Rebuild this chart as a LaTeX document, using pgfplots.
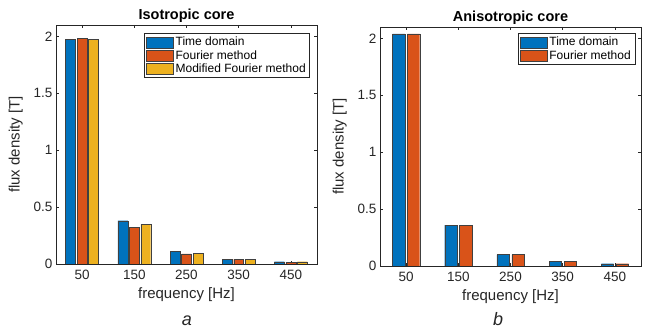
\documentclass[border=0pt]{standalone}
\usepackage{pgfplots}
\pgfplotsset{compat=1.18}
\usepackage{fontspec}
\setmainfont{Liberation Sans}
\definecolor{mblue}{rgb}{0,0.447,0.741}
\definecolor{mred}{rgb}{0.850,0.325,0.098}
\definecolor{myel}{rgb}{0.929,0.694,0.125}
\definecolor{mgray}{rgb}{0.15,0.15,0.15}
\pgfplotsset{
  mstyle/.style={
    scale only axis, width=261pt, height=239pt,
    ybar, ymin=0, ymax=2.1,
    xmin=-0.5, xmax=4.5,
    xtick={0,1,2,3,4}, xticklabels={50,150,250,350,450},
    ytick={0,0.5,1,1.5,2}, yticklabels={0,0.5,1,1.5,2},
    tick align=inside, major tick length=3pt,
    tick style={mgray, line width=0.5pt},
    axis line style={mgray, line width=0.5pt},
    ticklabel style={font=\fontsize{13.5}{15}\selectfont, text=mgray},
    xticklabel style={yshift=-3pt},
    label style={font=\fontsize{15}{17}\selectfont, text=mgray},
    title style={font=\fontsize{14.5}{16}\bfseries, yshift=-7pt},
    xlabel={frequency [Hz]}, ylabel={flux density [T]},
    xlabel style={yshift=-1pt}, ylabel style={yshift=4pt},
    /pgf/number format/assume math mode=true,
    legend cell align=left,
    legend style={font=\fontsize{12}{14}\selectfont, draw=mgray, line width=0.5pt,
      anchor=north east, inner xsep=2pt, inner ysep=2pt, row sep=-1pt},
    legend image code/.code={\draw[#1] (0pt,-5.5pt) rectangle (27pt,5.5pt);},
    every axis plot/.append style={draw=black!75, line width=0.4pt},
  }
}
\begin{document}
\begin{tikzpicture}
\useasboundingbox (0,0) rectangle (650pt,331pt);
\begin{axis}[mstyle, at={(56pt,67pt)}, anchor=south west, name=left,
  title={Isotropic core}, bar width=0.19,
  legend style={at={(0.973,0.967)}}]
\addplot[fill=mblue, bar shift=-0.22] coordinates {(0,1.975) (1,0.38) (2,0.11) (3,0.04) (4,0.02)};
\addplot[fill=mred, bar shift=0] coordinates {(0,1.98) (1,0.32) (2,0.09) (3,0.04) (4,0.015)};
\addplot[fill=myel, bar shift=0.22] coordinates {(0,1.975) (1,0.35) (2,0.095) (3,0.04) (4,0.02)};
\legend{Time domain, Fourier method, Modified Fourier method}
\end{axis}
\begin{axis}[mstyle, at={(380pt,65pt)}, anchor=south west, name=right,
  title={Anisotropic core}, bar width=0.235,
  legend style={at={(0.977,0.975)}}]
\addplot[fill=mblue, bar shift=-0.143] coordinates {(0,2.04) (1,0.36) (2,0.10) (3,0.04) (4,0.02)};
\addplot[fill=mred, bar shift=0.143] coordinates {(0,2.04) (1,0.36) (2,0.10) (3,0.04) (4,0.02)};
\legend{Time domain, Fourier method}
\end{axis}
\node[font=\fontsize{18}{20}\itshape, text=mgray] at (187pt,10pt) {a};
\node[font=\fontsize{18}{20}\itshape, text=mgray] at (498pt,12pt) {b};
\end{tikzpicture}
\end{document}
